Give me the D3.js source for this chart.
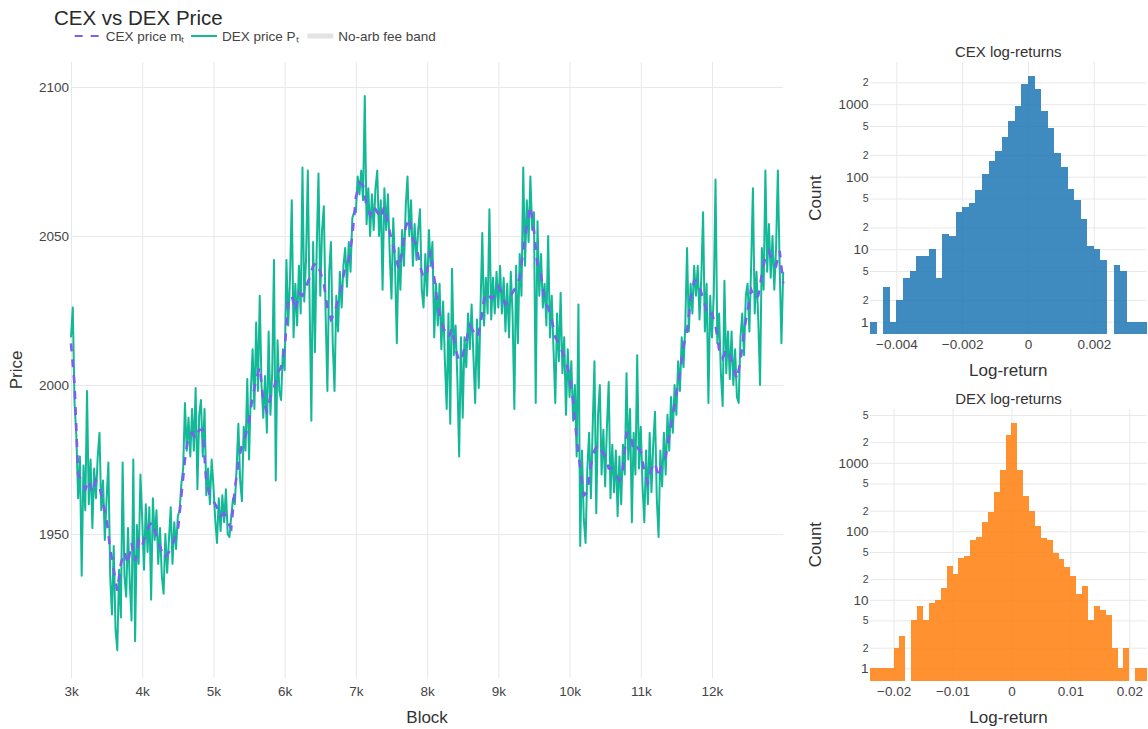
<!DOCTYPE html>
<html>
<head>
<meta charset="utf-8">
<script src="https://cdn.jsdelivr.net/npm/d3@7"></script>
<style>
  html, body { margin: 0; padding: 0; background: #fff; }
  svg { display: block; font-family: "Liberation Sans", Arial, sans-serif; }
</style>
</head>
<body>
<svg id="chart" width="1148" height="729"></svg>
<script>
// ---- Price paths (block 3000 .. 13000) ----
const cexStartBlock = 3000, cexStep = 50;
const cexPrice = [
  2014,2000,1970,1968,1965,1968,1964,1968,1966,1960,
  1955,1945,1938,1931,1940,1944,1940,1947,1941,1948,
  1946,1950,1953,1954,1949,1946,1942,1943,1945,1948,
  1951,1963,1975,1983,1984,1982,1985,1985,1967,1963,
  1961,1959,1956,1957,1954,1952,1965,1974,1980,1983,
  1988,1996,2002,2006,1995,1991,1996,1999,2004,2006,
  2012,2028,2030,2025,2031,2030,2033,2036,2040,2041,
  2038,2034,2026,2022,2024,2029,2033,2040,2042,2050,
  2063,2068,2067,2060,2057,2060,2058,2056,2060,2054,
  2049,2044,2039,2045,2053,2056,2049,2047,2040,2036,
  2038,2045,2036,2027,2021,2018,2016,2019,2012,2008,
  2010,2015,2020,2018,2016,2020,2029,2031,2029,2030,
  2033,2031,2027,2029,2031,2033,2036,2045,2054,2060,
  2052,2040,2037,2028,2026,2022,2016,2014,2011,2008,
  2003,1995,1982,1972,1963,1964,1973,1978,1980,1978,
  1976,1972,1972,1970,1968,1972,1984,1984,1978,1979,
  1978,1971,1967,1972,1974,1969,1974,1976,1983,1990,
  1997,2004,2013,2018,2029,2035,2035,2031,2027,2023,
  2024,2020,2012,2009,2012,2010,2006,2002,2008,2018,
  2025,2032,2029,2030,2037,2043,2045,2041,2040,2045,
  2034
];

const dexStartBlock = 3000, dexStep = 25;
const dexPrice = [
  2016,2026,1994,1983,1962,1976,1936,1973,1958,1998,1960,1975,1952,1972,1962,1976,1984,1958,1968,1948,
  1962,1974,1936,1923,1946,1918,1911,1938,1922,1974,1936,1929,1952,1934,1921,1975,1914,1953,1940,1970,
  1955,1938,1960,1944,1959,1928,1962,1948,1958,1940,1952,1936,1930,1950,1937,1948,1959,1940,1954,1945,
  1956,1958,1967,1972,1994,1978,1989,1976,1992,1978,1999,1965,1990,1995,1976,1992,1963,1972,1960,1975,
  1966,1955,1947,1962,1951,1963,1954,1965,1950,1949,1956,1962,1960,1972,1987,1968,1961,1986,1978,2002,
  1975,1998,2012,1992,2021,1998,2030,2000,1989,2003,1984,2018,1990,2004,2042,1968,2015,1998,1995,2012,
  2005,2042,2020,2036,2062,2016,2034,2020,2040,2024,2073,2028,2042,2072,2028,1988,2048,2011,2046,2071,
  2030,2052,2060,2024,1998,2038,2048,2014,1998,2030,2018,2038,2026,2040,2046,2033,2048,2038,2056,2058,
  2058,2070,2064,2072,2062,2097,2054,2066,2050,2064,2052,2066,2072,2050,2062,2032,2066,2052,2064,2044,
  2029,2056,2040,2014,2046,2032,2052,2040,2060,2070,2050,2062,2040,2054,2042,2052,2059,2032,2026,2044,
  2030,2052,2040,2048,2016,2034,2020,2034,2012,2028,2008,1992,2024,1987,2039,2010,2020,2002,1976,2016,
  1989,2016,2006,2024,2012,2027,2010,1994,2022,1999,2026,2051,2020,2036,2024,2059,2022,2036,2024,2038,
  2026,2040,2024,2036,2018,2034,2016,2038,2024,1992,2040,2014,2044,2030,2073,2040,2062,2048,2070,2052,
  2058,1994,2055,2030,2044,2026,2034,2020,2050,2016,2030,2012,1994,2024,2008,2031,2004,2016,1990,2012,
  1996,2008,1988,2000,1976,2027,1946,1978,1955,1947,1972,1984,1962,1986,2008,1957,1990,2000,1970,1985,
  1966,1986,2001,1962,1980,1964,1978,1956,1976,1960,1980,1970,2004,1975,1992,1954,1984,1970,2010,1972,
  1986,1966,1954,1978,1960,1984,1964,1980,1991,1962,1949,1978,1966,1984,1970,1990,1978,1996,1984,2000,
  1990,2008,1998,2016,2006,2020,2046,2018,2034,2024,2040,2030,2040,2022,2036,2058,2018,2034,1994,2030,
  2016,2030,2069,2014,2024,2004,1993,2035,2004,2018,2002,2018,2000,2012,1996,1994,2016,2024,2010,2030,
  2034,2018,2040,2066,2024,2038,2022,2000,2046,2032,2072,2038,2054,2036,2050,2032,2046,2072,2040,2014,
  2038
];

// half-width of the no-arbitrage band, as a fraction of the CEX price
const feeRate = 0.0005;

const blockTicks = [3000,4000,5000,6000,7000,8000,9000,10000,11000,12000];
const blockTickLabels = ["3k","4k","5k","6k","7k","8k","9k","10k","11k","12k"];
const priceTicks = [1950, 2000, 2050, 2100];

// ---- Log-return histograms ----
const cexBinStart = -0.0048, cexBinWidth = 0.0002;
const cexCounts = [1,0,3,1,2,4,5,8,8,10,4,16,15,33,38,44,65,110,166,224,349,580,953,1880,2470,1636,813,465,210,137,68,47,26,11,10,7,0,6,5,1,1,1];
const cexReturnTicks = [-0.004, -0.002, 0, 0.002];
const cexReturnLabels = ["\u22120.004", "\u22120.002", "0", "0.002"];

const dexBinStart = -0.024, dexBinWidth = 0.001;
const dexCounts = [1,1,1,1,2,3,0,5,8,5,9,10,15,31,24,41,43,74,83,135,191,371,777,2520,3810,794,324,200,118,79,75,48,39,30,22,12,16,5,8,7,6,2,1,2,0,1,1];
const dexReturnTicks = [-0.02, -0.01, 0, 0.01, 0.02];
const dexReturnLabels = ["\u22120.02", "\u22120.01", "0", "0.01", "0.02"];

const countTicks = [1,2,5,10,20,50,100,200,500,1000,2000,5000];

// ---- Styling ----
const COL = {
  cex: "#7b5ff0",
  dex: "#13b897",
  band: "#e3e3e3",
  grid: "#e8e8e8",
  tick: "#444",
  title: "#2a2a2a",
  cexHist: "#1f77b4",
  dexHist: "#ff7f0e"
};
const FONT = "'Liberation Sans', Arial, sans-serif";

const svg = d3.select("#chart");
svg.append("rect").attr("width", 1148).attr("height", 729).attr("fill", "#fff");

// ================= Main price panel =================
const M = { left: 71, right: 783.2, top: 62, bottom: 678 };
const x = d3.scaleLinear().domain([3000, 13000]).range([M.left, M.right]);
const y = d3.scaleLinear().domain([1901.7, 2108.4]).range([M.bottom, M.top]);

const main = svg.append("g");

// gridlines
main.append("g")
  .attr("transform", `translate(0,${M.bottom})`)
  .call(d3.axisBottom(x).tickValues(blockTicks).tickSize(-(M.bottom - M.top)).tickFormat(""))
  .call(g => g.select(".domain").remove())
  .call(g => g.selectAll("line").attr("stroke", COL.grid).attr("stroke-width", 1));
main.append("g")
  .attr("transform", `translate(${M.left},0)`)
  .call(d3.axisLeft(y).tickValues(priceTicks).tickSize(-(M.right - M.left)).tickFormat(""))
  .call(g => g.select(".domain").remove())
  .call(g => g.selectAll("line").attr("stroke", COL.grid).attr("stroke-width", 1));

const cexData = cexPrice.map((p, i) => ({ b: cexStartBlock + i * cexStep, p }));
const dexData = dexPrice.map((p, i) => ({ b: dexStartBlock + i * dexStep, p }));

// no-arb fee band around the CEX price
main.append("path")
  .datum(cexData)
  .attr("fill", COL.band)
  .attr("opacity", 0.5)
  .attr("d", d3.area()
    .x(d => x(d.b))
    .y0(d => y(d.p * (1 - feeRate)))
    .y1(d => y(d.p * (1 + feeRate))));

// DEX price
main.append("path")
  .datum(dexData)
  .attr("fill", "none")
  .attr("stroke", COL.dex)
  .attr("stroke-width", 2)
  .attr("stroke-linejoin", "round")
  .attr("d", d3.line().x(d => x(d.b)).y(d => y(d.p)));

// CEX price (dashed, on top)
main.append("path")
  .datum(cexData)
  .attr("fill", "none")
  .attr("stroke", COL.cex)
  .attr("stroke-width", 2.6)
  .attr("stroke-dasharray", "8,8")
  .attr("d", d3.line().x(d => x(d.b)).y(d => y(d.p)));

// axes labels
main.append("g")
  .attr("transform", `translate(0,${M.bottom})`)
  .call(d3.axisBottom(x).tickValues(blockTicks).tickSize(0).tickPadding(8)
    .tickFormat((d, i) => blockTickLabels[i]))
  .call(g => g.select(".domain").remove())
  .call(g => g.selectAll("text").attr("fill", COL.tick).style("font-size", "13.5px")
    .style("font-family", FONT));
main.append("g")
  .attr("transform", `translate(${M.left},0)`)
  .call(d3.axisLeft(y).tickValues(priceTicks).tickSize(0).tickPadding(2).tickFormat(d3.format("d")))
  .call(g => g.select(".domain").remove())
  .call(g => g.selectAll("text").attr("fill", COL.tick).style("font-size", "13.5px")
    .style("font-family", FONT));

main.append("text").attr("x", (M.left + M.right) / 2).attr("y", 723)
  .attr("text-anchor", "middle").attr("fill", "#333").style("font-size", "17px").text("Block");
main.append("text").attr("transform", `translate(22,${(M.top + M.bottom) / 2}) rotate(-90)`)
  .attr("text-anchor", "middle").attr("fill", "#333").style("font-size", "17px").text("Price");

// title
svg.append("text").attr("x", 54).attr("y", 25).attr("fill", COL.title)
  .style("font-size", "20.5px").text("CEX vs DEX Price");

// legend
const legend = svg.append("g");
const legendItems = [
  { label: "CEX price m\u209C", tx: 105.7, kind: "cex" },
  { label: "DEX price P\u209C", tx: 222, kind: "dex" },
  { label: "No-arb fee band", tx: 338.3, kind: "band" }
];
legendItems.forEach(it => {
  const ly = 36;
  const ln = legend.append("line")
    .attr("x1", it.tx - 31).attr("x2", it.tx - 5).attr("y1", ly).attr("y2", ly);
  if (it.kind === "cex") ln.attr("stroke", COL.cex).attr("stroke-width", 2)
    .attr("stroke-dasharray", "8,8").attr("x1", it.tx - 31).attr("x2", it.tx - 7);
  if (it.kind === "dex") ln.attr("stroke", COL.dex).attr("stroke-width", 2);
  if (it.kind === "band") ln.attr("stroke", COL.band).attr("stroke-width", 5);
  legend.append("text").attr("x", it.tx).attr("y", ly + 4.8).attr("fill", COL.tick)
    .style("font-size", "13.5px").text(it.label);
});

// ================= Histograms =================
function histogram(opts) {
  const { left, right, top, bottom, binStart, binWidth, counts, color,
          logMin, logMax, xTicks, xLabels, title, labelY } = opts;
  const nBins = counts.length;
  const xs = d3.scaleLinear().domain([binStart, binStart + nBins * binWidth]).range([left, right]);
  const ys = d3.scaleLog().domain([Math.pow(10, logMin), Math.pow(10, logMax)]).range([bottom, top]);
  const yTicks = countTicks.filter(v => v >= ys.domain()[0] && v <= ys.domain()[1]);
  const isMajor = d => { const lg = Math.log10(d); return Math.abs(lg - Math.round(lg)) < 1e-9; };
  const g = svg.append("g");

  // gridlines
  g.append("g").attr("transform", `translate(0,${bottom})`)
    .call(d3.axisBottom(xs).tickValues(xTicks).tickSize(-(bottom - top)).tickFormat(""))
    .call(a => a.select(".domain").remove())
    .call(a => a.selectAll("line").attr("stroke", COL.grid));
  g.append("g").attr("transform", `translate(${left},0)`)
    .call(d3.axisLeft(ys).tickValues(yTicks).tickSize(-(right - left)).tickFormat(""))
    .call(a => a.select(".domain").remove())
    .call(a => a.selectAll("line").attr("stroke", COL.grid));

  // bars
  const bins = counts.map((c, i) => ({ x0: binStart + i * binWidth, x1: binStart + (i + 1) * binWidth, c }))
    .filter(d => d.c > 0);
  g.append("g").selectAll("rect").data(bins).join("rect")
    .attr("x", d => xs(d.x0))
    .attr("width", d => xs(d.x1) - xs(d.x0))
    .attr("y", d => ys(d.c))
    .attr("height", d => bottom - ys(d.c))
    .attr("fill", color)
    .attr("fill-opacity", 0.86)
    .attr("shape-rendering", "crispEdges");

  // tick labels
  g.append("g").attr("transform", `translate(0,${bottom})`)
    .call(d3.axisBottom(xs).tickValues(xTicks).tickSize(0).tickPadding(5.5)
      .tickFormat((d, i) => xLabels[i]))
    .call(a => a.select(".domain").remove())
    .call(a => a.selectAll("text").attr("fill", COL.tick).style("font-size", "13.5px")
      .style("font-family", FONT));
  g.append("g").attr("transform", `translate(${left},0)`)
    .call(d3.axisLeft(ys).tickValues(yTicks).tickSize(0).tickPadding(1.5)
      .tickFormat(d => isMajor(d) ? String(d) : String(d).charAt(0)))
    .call(a => a.select(".domain").remove())
    .call(a => a.selectAll("text").attr("fill", COL.tick)
      .style("font-family", FONT)
      .style("font-size", d => isMajor(d) ? "13.5px" : "10.5px"));

  // titles
  g.append("text").attr("x", (left + right) / 2).attr("y", top - 4.7)
    .attr("text-anchor", "middle").attr("fill", "#333").style("font-size", "15px").text(title);
  g.append("text").attr("x", (left + right) / 2).attr("y", labelY)
    .attr("text-anchor", "middle").attr("fill", "#333").style("font-size", "17px").text("Log-return");
  g.append("text").attr("transform", `translate(821,${(top + bottom) / 2}) rotate(-90)`)
    .attr("text-anchor", "middle").attr("fill", "#333").style("font-size", "17px").text("Count");
}

histogram({
  left: 870, right: 1146.5, top: 62, bottom: 334,
  binStart: cexBinStart, binWidth: cexBinWidth, counts: cexCounts, color: COL.cexHist,
  logMin: -0.17, logMax: 3.582,
  xTicks: cexReturnTicks, xLabels: cexReturnLabels,
  title: "CEX log-returns", labelY: 376
});
histogram({
  left: 870, right: 1147, top: 408.5, bottom: 680.7,
  binStart: dexBinStart, binWidth: dexBinWidth, counts: dexCounts, color: COL.dexHist,
  logMin: -0.181, logMax: 3.793,
  xTicks: dexReturnTicks, xLabels: dexReturnLabels,
  title: "DEX log-returns", labelY: 722.7
});
</script>
</body>
</html>
